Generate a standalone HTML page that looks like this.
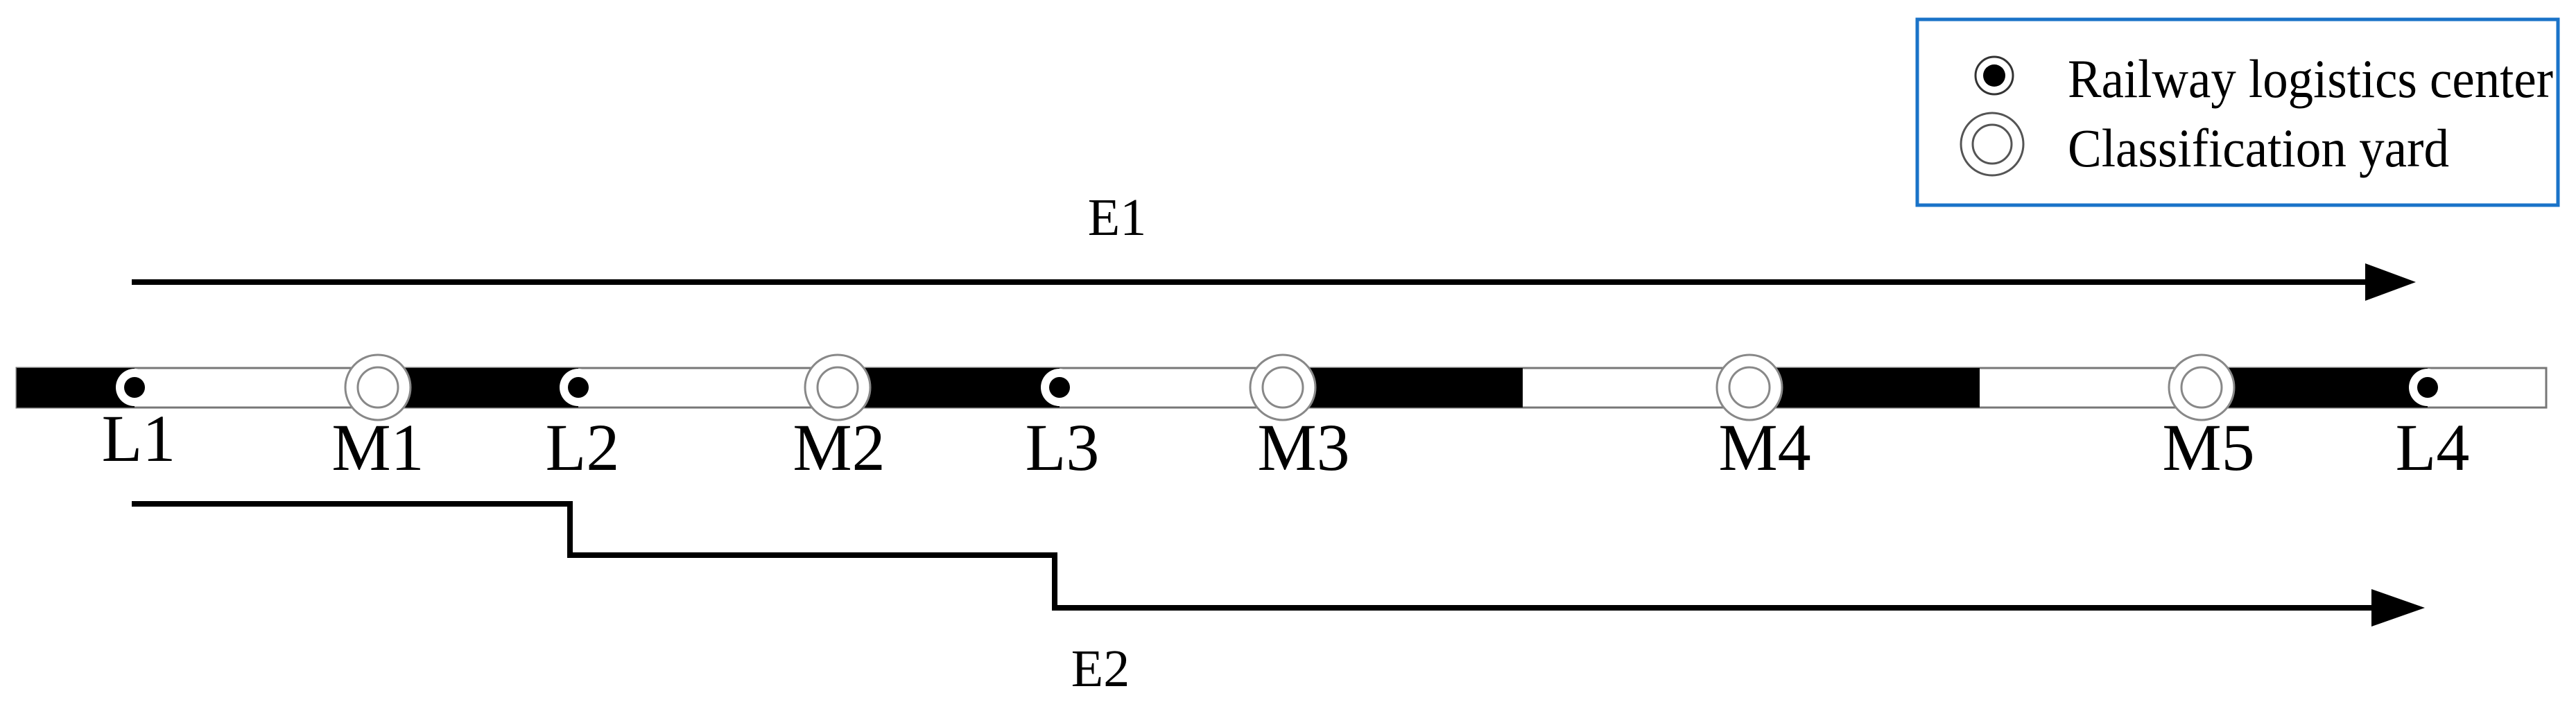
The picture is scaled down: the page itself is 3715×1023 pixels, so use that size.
<!DOCTYPE html>
<html><head><meta charset="utf-8"><style>html,body{margin:0;padding:0;background:#fff}svg{display:block}</style></head>
<body>
<svg width="3715" height="1023" viewBox="0 0 3715 1023" xmlns="http://www.w3.org/2000/svg" font-family="Liberation Serif, serif">
<rect x="2765" y="28" width="924" height="268" fill="#fff" stroke="#1a73c8" stroke-width="5"/>
<circle cx="2876" cy="109" r="27" fill="#fff" stroke="#333" stroke-width="3"/>
<circle cx="2876" cy="109" r="16" fill="#000"/>
<text x="2982" y="140" font-size="78" textLength="700" lengthAdjust="spacingAndGlyphs">Railway logistics center</text>
<circle cx="2873" cy="208" r="45" fill="#fff" stroke="#555" stroke-width="3"/>
<circle cx="2873" cy="208" r="28" fill="#fff" stroke="#555" stroke-width="3"/>
<text x="2982" y="240" font-size="78" textLength="550" lengthAdjust="spacingAndGlyphs">Classification yard</text>

<text x="1611" y="339" font-size="76" text-anchor="middle">E1</text>
<line x1="190" y1="407" x2="3420" y2="407" stroke="#000" stroke-width="8"/>
<polygon points="3411,380 3484,407 3411,434" fill="#000"/>

<rect x="24" y="531" width="3648" height="57" fill="#fff" stroke="#777" stroke-width="3"/>
<rect x="24" y="531" width="170" height="57" fill="#000"/>
<rect x="545" y="531" width="289" height="57" fill="#000"/>
<rect x="1208" y="531" width="320" height="57" fill="#000"/>
<rect x="1850" y="531" width="346" height="57" fill="#000"/>
<rect x="2523" y="531" width="332" height="57" fill="#000"/>
<rect x="3175" y="531" width="326" height="57" fill="#000"/>

<g fill="#fff" stroke="#888" stroke-width="3">
<circle cx="545" cy="559" r="47"/><circle cx="545" cy="559" r="29"/>
<circle cx="1208" cy="559" r="47"/><circle cx="1208" cy="559" r="29"/>
<circle cx="1850" cy="559" r="47"/><circle cx="1850" cy="559" r="29"/>
<circle cx="2523" cy="559" r="47"/><circle cx="2523" cy="559" r="29"/>
<circle cx="3175" cy="559" r="47"/><circle cx="3175" cy="559" r="29"/>
</g>
<g>
<circle cx="194" cy="559" r="27" fill="#fff"/><circle cx="194" cy="559" r="15" fill="#000"/>
<circle cx="834" cy="559" r="27" fill="#fff"/><circle cx="834" cy="559" r="15" fill="#000"/>
<circle cx="1528" cy="559" r="27" fill="#fff"/><circle cx="1528" cy="559" r="15" fill="#000"/>
<circle cx="3501" cy="559" r="27" fill="#fff"/><circle cx="3501" cy="559" r="15" fill="#000"/>
</g>
<g font-size="96" text-anchor="middle">
<text x="200" y="665">L1</text>
<text x="545" y="678">M1</text>
<text x="840" y="678">L2</text>
<text x="1210" y="678">M2</text>
<text x="1532" y="678">L3</text>
<text x="1880" y="678">M3</text>
<text x="2545" y="678">M4</text>
<text x="3185" y="678">M5</text>
<text x="3508" y="678">L4</text>
</g>

<polyline points="190,727 822,727 822,801 1521,801 1521,877 3425,877" fill="none" stroke="#000" stroke-width="8"/>
<polygon points="3420,850 3497,877 3420,904" fill="#000"/>
<text x="1587" y="990" font-size="76" text-anchor="middle">E2</text>
</svg>
</body></html>
